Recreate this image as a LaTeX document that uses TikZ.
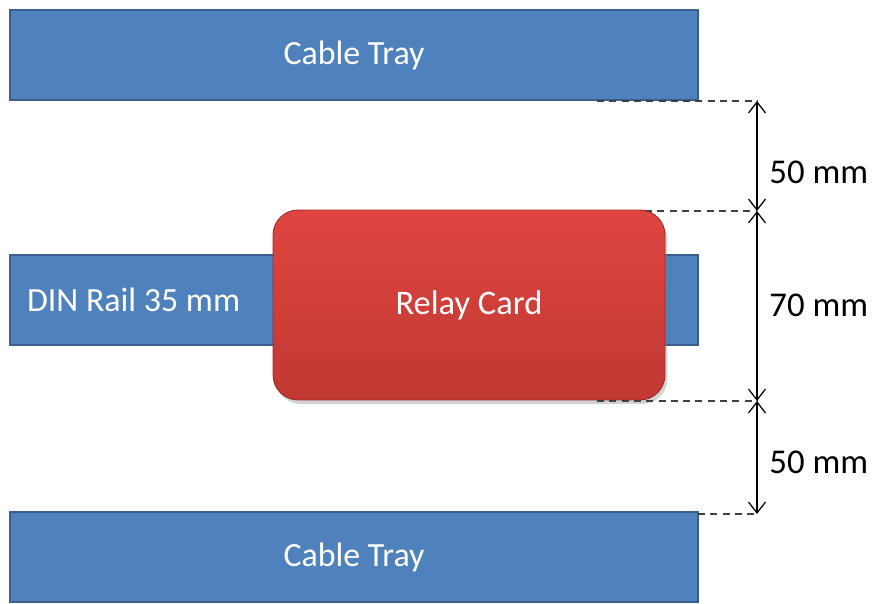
\documentclass[tikz,border=0pt]{standalone}
\usepackage{fontspec}
\setmainfont{Carlito}
\usetikzlibrary{
    arrows.meta,
    shadows,
    positioning
}
\definecolor{trayblue}{HTML}{4F81BD}
\definecolor{trayedge}{HTML}{3A5F8E}
\definecolor{cardtop}{HTML}{DE4540}
\definecolor{cardbot}{HTML}{C13833}
\definecolor{cardedge}{HTML}{9E2A27}

\begin{document}
\begin{tikzpicture}[x=0.02cm, y=-0.02cm,
    tray/.style={fill=trayblue, draw=trayedge, line width=0.8pt, inner sep=0pt,
        minimum width=13.76cm, minimum height=1.8cm, text=white,
        font=\fontsize{19.3}{22}\selectfont},
    card/.style={top color=cardtop, bottom color=cardbot, draw=cardedge, line width=0.5pt,
        rounded corners=0.5cm, minimum width=7.84cm, minimum height=3.8cm, text=white,
        font=\fontsize{19.6}{22}\selectfont,
        drop shadow={shadow xshift=0.5mm, shadow yshift=-0.8mm, opacity=0.35}},
    dim/.style={font=\fontsize{19.8}{22}\selectfont, anchor=west, inner sep=0pt},
    guide/.style={dashed, dash pattern=on 4pt off 3pt, line width=0.7pt, black!75},
    measure/.style={{Straight Barb[length=2.2mm,width=3.4mm]}-{Straight Barb[length=2.2mm,width=3.4mm]}, line width=0.7pt}]
    \useasboundingbox (0, 0) rectangle (874, 604);
    % trays and rail
    \node[tray] (traytop) at (354, 55) {Cable Tray};
    \node[tray, text width=13.08cm, inner xsep=0.34cm, align=flush left] (rail) at (354, 300) {DIN Rail 35 mm};
    \node[tray] (traybot) at (354, 557) {Cable Tray};
    % dimension points
    \coordinate (g1) at (597, 101);
    \coordinate (d1) at (757, 101);
    \coordinate (g2) at (645, 211);
    \coordinate (d2) at (757, 211);
    \coordinate (g3) at (597, 401);
    \coordinate (d3) at (757, 401);
    \coordinate (g4) at (698, 514);
    \coordinate (d4) at (757, 514);
    \draw[guide]
    (g1) -- (d1)
    (g2) -- (d2)
    (g4) -- (d4);
    \node[card] (card) at (469, 305) {Relay Card};
    \draw[guide] (g3) -- (d3);
    \draw
    (d1) edge[measure] (d2)
    (d2) edge[measure] (d3)
    (d3) edge[measure] (d4);
    \node[dim] (top) at (769, 172) {50 mm};
    \node[dim] (mid) at (769, 305) {70 mm};
    \node[dim] (bot) at (769, 462) {50 mm};
\end{tikzpicture}
\end{document}
